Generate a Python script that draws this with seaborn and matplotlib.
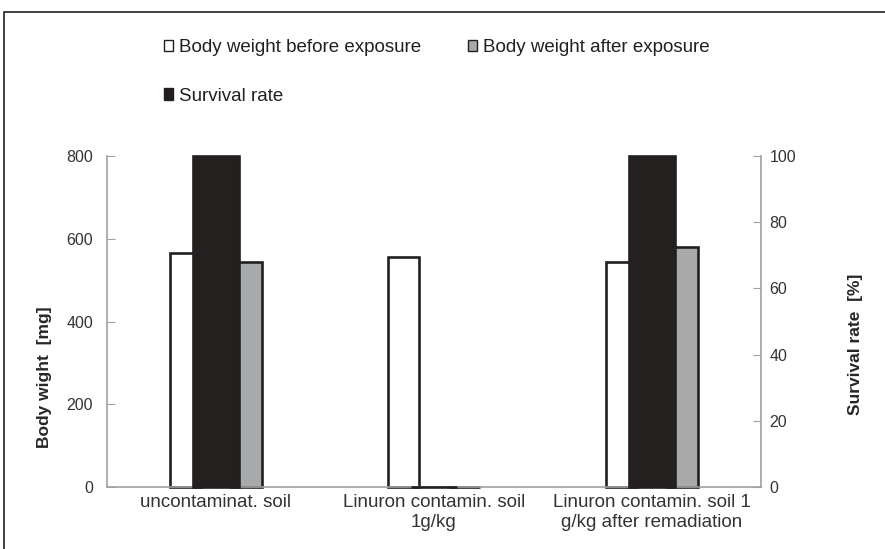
import seaborn as sns
import matplotlib.pyplot as plt
import pandas as pd
from matplotlib.patches import Patch, Rectangle

# data
soils = ['uncontaminat. soil', 'Linuron contamin. soil\n1g/kg',
         'Linuron contamin. soil 1\ng/kg after remadiation']
weight_before = [565, 555, 544]
weight_after = [545, 0, 581]
survival = [100, 0, 100]

sns.set_style('white')
plt.rcParams['font.family'] = ['Liberation Sans', 'DejaVu Sans']

dark = '#231f20'
grey = '#a7a9ac'
spine = '#a0a0a0'

df = pd.DataFrame({
    'soil': soils * 2,
    'weight': weight_before + weight_after,
    'series': ['before'] * 3 + ['after'] * 3,
})

fig = plt.figure(figsize=(8.85, 5.49), dpi=100)
ax = fig.add_axes([107 / 885, 1 - 487 / 549, (761 - 107) / 885, (487 - 156) / 549])

sns.barplot(data=df, x='soil', y='weight', hue='series', order=soils,
            hue_order=['before', 'spacer', 'after'],
            palette={'before': 'white', 'spacer': 'white', 'after': grey},
            width=0.426, edgecolor=dark, linewidth=1.9, legend=False, ax=ax)

ax2 = ax.twinx()
sns.barplot(x=soils, y=survival, order=soils, color=dark, width=0.21,
            edgecolor=dark, linewidth=1.9, ax=ax2)

# let the bar outlines sit fully on the zero line
for a in (ax, ax2):
    for p in a.patches:
        p.set_clip_on(False)

ax.set_ylim(0, 800)
ax.set_yticks(range(0, 801, 200))
ax2.set_ylim(0, 100)
ax2.set_yticks(range(0, 101, 20))
ax.set_xlim(-0.5, 2.5)
ax.set_xticks(range(3))
ax.set_xticklabels(soils)
ax.set_xticks([0.5, 1.5], minor=True)

for a in (ax, ax2):
    a.spines['top'].set_visible(False)
    for s in ('left', 'right', 'bottom'):
        a.spines[s].set_color(spine)
        a.spines[s].set_linewidth(1.2)
ax.spines['right'].set_visible(False)
ax2.spines['left'].set_visible(False)
ax2.spines['bottom'].set_visible(False)

ax.tick_params(axis='y', direction='in', length=6, color=spine, labelsize=11.5,
               labelcolor='#333333', pad=10)
ax2.tick_params(axis='y', direction='in', length=6, color=spine, labelsize=11.5,
                labelcolor='#333333', pad=6)
ax.tick_params(axis='x', which='major', length=0, labelsize=13.5,
               labelcolor='#333333', pad=5)
ax.tick_params(axis='x', which='minor', direction='in', length=6, color=spine)

ax.set_xlabel('')
ax.set_ylabel('Body wight  [mg]', fontsize=12.5, fontweight='bold')
ax.yaxis.set_label_coords(-0.084, 0.332)
ax2.set_ylabel('Survival rate  [%]', fontsize=12.5, fontweight='bold')
ax2.yaxis.set_label_coords(1.133, 0.432)

handles = [Patch(facecolor='white', edgecolor=dark, linewidth=1),
           Patch(facecolor=dark, edgecolor=dark, linewidth=1),
           Patch(facecolor=grey, edgecolor=dark, linewidth=1)]
labels = ['Body weight before exposure', 'Survival rate', 'Body weight after exposure']
fig.legend(handles, labels, ncol=2, loc='upper left',
           bbox_to_anchor=(147 / 885, 1 - 22 / 549), frameon=False,
           fontsize=13.5, handlelength=0.5, handleheight=0.55, handletextpad=0.3,
           columnspacing=2.5, labelspacing=1.7, labelcolor=dark)

# outer frame, cut by the picture edge
fig.add_artist(Rectangle((4 / 885, -0.1), 1.2, 1 - 12 / 549 + 0.1,
                         transform=fig.transFigure, fill=False,
                         edgecolor=dark, linewidth=1.2))

fig.savefig('out.png', dpi=100)
